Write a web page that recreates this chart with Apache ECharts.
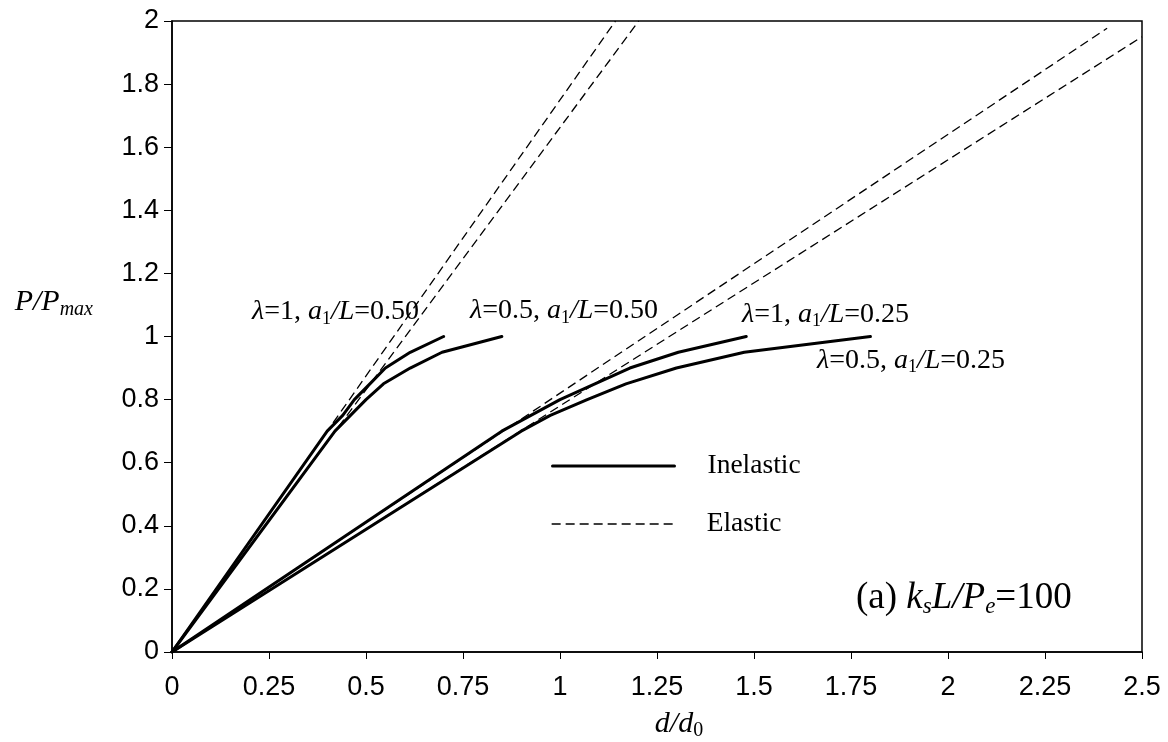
<!DOCTYPE html>
<html><head><meta charset="utf-8">
<script src="https://cdn.jsdelivr.net/npm/echarts@6/dist/echarts.min.js"></script>
<style>html,body{margin:0;padding:0;background:#fff}#c{width:1168px;height:742px}</style>
</head><body><div id="c"></div>
<script>
// ---- data ----
const loadLevels = [0, 0.70, 0.75, 0.80, 0.85, 0.90, 0.95, 1.00];          // P/Pmax
const dInelL1A050  = [0, 0.40, 0.44, 0.47, 0.51, 0.55, 0.614, 0.70];      // λ=1,   a1/L=0.50
const dInelL05A050 = [0, 0.42, 0.46, 0.50, 0.545, 0.614, 0.696, 0.85];    // λ=0.5, a1/L=0.50
const dInelL1A025  = [0, 0.85, 0.925, 1.00, 1.09, 1.18, 1.305, 1.48];     // λ=1,   a1/L=0.25
const dInelL05A025 = [0, 0.90, 0.975, 1.07, 1.17, 1.30, 1.475, 1.80];     // λ=0.5, a1/L=0.25
const elasticStartD = [0, 0, 0, 0];
const elasticStartP = [0, 0, 0, 0];
const elasticEndD   = [1.143, 1.203, 2.41, 2.50];
const elasticEndP   = [2.00, 2.00, 1.977, 1.95];
const curveLambda = ['1', '0.5', '1', '0.5'];
const curveA1L    = ['0.50', '0.50', '0.25', '0.25'];
const xTickInterval = 0.25, yTickInterval = 0.2;

const serif = "'Liberation Serif','Times New Roman',serif";
const sans = "'Liberation Sans',Arial,sans-serif";

function pairs(xs, ys){ return xs.map((x,i)=>[x, ys[i]]); }

const inelasticSets = [dInelL1A050, dInelL05A050, dInelL1A025, dInelL05A025];
const series = [];
for (let k = 0; k < 4; k++) {
  series.push({
    name: 'Elastic', type: 'line', symbol: 'none', silent: true, z: 2,
    data: [[elasticStartD[k], elasticStartP[k]], [elasticEndD[k], elasticEndP[k]]],
    lineStyle: { color: '#000', width: 1.3, type: [9, 5] }
  });
}
inelasticSets.forEach(d => {
  series.push({
    name: 'Inelastic', type: 'line', symbol: 'none', silent: true, z: 3,
    data: pairs(d, loadLevels),
    lineStyle: { color: '#000', width: 3, join: 'round', cap: 'round' }
  });
});

const annRich = {
  g: { fontFamily: serif, fontStyle: 'italic', fontSize: 28, lineHeight: 32, color: '#000' },
  n: { fontFamily: serif, fontSize: 28, lineHeight: 32, color: '#000' },
  i: { fontFamily: serif, fontStyle: 'italic', fontSize: 28, lineHeight: 32, color: '#000' },
  s: { fontFamily: serif, fontSize: 18, lineHeight: 18, verticalAlign: 'bottom', color: '#000' }
};
function curveLabel(k){
  return '{g|λ}{n|=' + curveLambda[k] + ', }{i|a}{s|1}{i|/L}{n|=' + curveA1L[k] + '}';
}
// label anchor positions (layout only)
const labelPos = [[252, 312], [470, 311], [742, 314.5], [817, 360.5]];
const graphics = labelPos.map((p, k) => ({
  type: 'text', x: p[0], y: p[1], silent: true,
  style: { text: curveLabel(k), rich: annRich, align: 'left', verticalAlign: 'middle',
           textAlign: 'left', textVerticalAlign: 'middle' }
}));
const bigRich = {
  n: { fontFamily: serif, fontSize: 37, lineHeight: 40, color: '#000' },
  i: { fontFamily: serif, fontStyle: 'italic', fontSize: 37, lineHeight: 40, color: '#000' },
  s: { fontFamily: serif, fontStyle: 'italic', fontSize: 23, lineHeight: 23, verticalAlign: 'bottom', color: '#000' }
};
graphics.push({
  type: 'text', x: 856, y: 598, silent: true,
  style: { text: '{n|(a) }{i|k}{s|s}{i|L/P}{s|e}{n|=100}', rich: bigRich, align: 'left', verticalAlign: 'middle',
           textAlign: 'left', textVerticalAlign: 'middle' }
});

const nameRich = {
  i: { fontFamily: serif, fontStyle: 'italic', fontSize: 30, lineHeight: 34, color: '#000' },
  s: { fontFamily: serif, fontStyle: 'italic', fontSize: 20, lineHeight: 20, verticalAlign: 'bottom', color: '#000' },
  u: { fontFamily: serif, fontSize: 20, lineHeight: 20, verticalAlign: 'bottom', color: '#000' }
};

const legendText = { fontFamily: serif, fontSize: 27.5, lineHeight: 30, color: '#000' };

const option = {
  animation: false,
  backgroundColor: '#fff',
  grid: { left: 172, right: 26, top: 21, bottom: 90, containLabel: false, outerBoundsMode: 'none',
          show: true, borderColor: '#000', borderWidth: 1.5, backgroundColor: 'transparent' },
  xAxis: {
    type: 'value', min: 0, max: 2.5, interval: xTickInterval,
    name: '{i|d/d}{u|0}', nameLocation: 'middle', nameGap: 55,
    nameTextStyle: { rich: nameRich, padding: [0, 0, 0, 44] },
    axisLine: { show: true, lineStyle: { color: '#000', width: 1.5 } },
    axisTick: { show: true, inside: false, length: 7, lineStyle: { color: '#000', width: 1 } },
    axisLabel: { color: '#000', fontFamily: sans, fontSize: 27, margin: 22 },
    splitLine: { show: false }
  },
  yAxis: {
    type: 'value', min: 0, max: 2, interval: yTickInterval,
    name: '{i|P/P}{s|max}', nameLocation: 'middle', nameGap: 79, nameRotate: 0,
    nameTextStyle: { rich: nameRich, padding: [0, 0, 68, 0] },
    axisLine: { show: true, lineStyle: { color: '#000', width: 1.5 } },
    axisTick: { show: true, inside: false, length: 8, lineStyle: { color: '#000', width: 1 } },
    axisLabel: { color: '#000', fontFamily: sans, fontSize: 27, margin: 13 },
    splitLine: { show: false }
  },
  legend: [
    { data: ['Inelastic'], orient: 'vertical', left: 551, top: 451, padding: 0,
      itemWidth: 122, itemHeight: 14, selectedMode: false,
      itemStyle: { opacity: 0 },
      lineStyle: { width: 3, color: '#000' },
      textStyle: Object.assign({}, legendText, { padding: [0, 0, 0, 28] }) },
    { data: ['Elastic'], orient: 'vertical', left: 551, top: 498, padding: 0,
      itemWidth: 122, itemHeight: 14, selectedMode: false,
      itemStyle: { opacity: 0 },
      lineStyle: { width: 1.3, color: '#000', type: [9, 5] },
      textStyle: Object.assign({}, legendText, { padding: [0, 0, 22, 28] }) }
  ],
  series: series,
  graphic: graphics
};
const chart = echarts.init(document.getElementById('c'), null, { renderer: 'canvas' });
chart.setOption(option);
</script></body></html>
